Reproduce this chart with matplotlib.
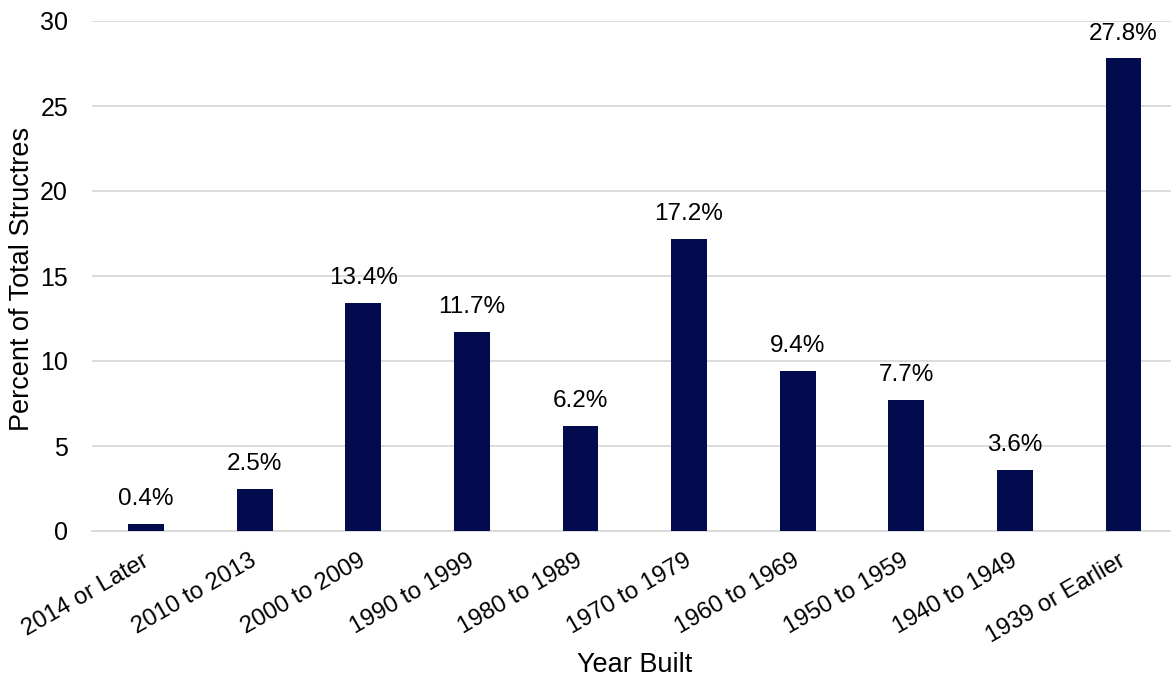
import matplotlib

matplotlib.use("Agg")
import matplotlib.pyplot as plt
from matplotlib.transforms import ScaledTranslation

plt.rcParams["font.family"] = ["Liberation Sans", "DejaVu Sans"]

CATS = ["2014 or Later", "2010 to 2013", "2000 to 2009", "1990 to 1999", "1980 to 1989",
        "1970 to 1979", "1960 to 1969", "1950 to 1959", "1940 to 1949", "1939 or Earlier"]
PCT = [0.4, 2.5, 13.4, 11.7, 6.2, 17.2, 9.4, 7.7, 3.6, 27.8]
YTICKS = [0, 5, 10, 15, 20, 25, 30]
NAVY = "#020B4E"

W, H = 1171, 677
fig = plt.figure(figsize=(W / 100, H / 100), dpi=100)
# axes runs slightly past the right edge of the image, like the original
ax = fig.add_axes([91.7 / W, 1 - 531 / H, (1177.8 - 91.7) / W, (531 - 21) / H])

x = range(len(CATS))
bars = ax.bar(x, PCT, width=0.33, color=NAVY, zorder=3)
for b, v in zip(bars, PCT):
    ax.annotate(f"{v:.1f}%", (b.get_x() + b.get_width() / 2, v), xytext=(0, 10),
                textcoords="offset points", ha="center", va="bottom", fontsize=17.5)

ax.set_xlim(-0.5, len(CATS) - 0.5)
ax.set_ylim(0, 30)
ax.set_yticks(YTICKS)
ax.set_yticklabels([str(t) for t in YTICKS], fontsize=18)
ax.set_xticks(list(x))
ax.set_xticklabels([])
# category labels drawn by hand so they can be nudged left of the tick
off = ax.get_xaxis_transform() + ScaledTranslation(-5 / 100, -19 / 100, fig.dpi_scale_trans)
for i, c in zip(x, CATS):
    ax.text(i, 0, c, transform=off, rotation=30, ha="right", va="top",
            rotation_mode="anchor", fontsize=17.2)
ax.tick_params(length=0)
ax.tick_params(axis="y", pad=17)
ax.grid(axis="y", color="#D9D9D9", lw=1.3, zorder=0)
for s in ("top", "right", "left"):
    ax.spines[s].set_visible(False)
ax.spines["bottom"].set_color("#D9D9D9")
ax.spines["bottom"].set_linewidth(1.3)

ax.set_ylabel("Percent of Total Structres", fontsize=19.5)
ax.set_xlabel("Year Built", fontsize=19.5)
ax.yaxis.set_label_coords(-(91.7 - 22) / (1177.8 - 91.7), (531 - 279) / (531 - 21))
ax.xaxis.set_label_coords((635 - 91.7) / (1177.8 - 91.7), -(665 - 531) / (531 - 21))
ax.xaxis.label.set_va("center")
ax.yaxis.label.set_va("center")

fig.savefig("out.png", dpi=100)
